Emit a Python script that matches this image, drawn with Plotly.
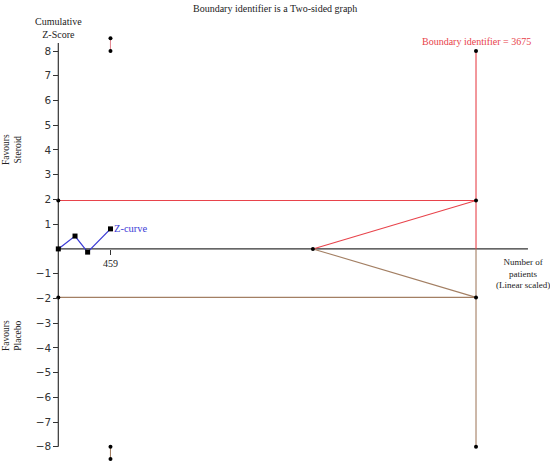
import plotly.graph_objects as go

# data
z_patients = [0, 147, 258, 459]
z_values = [0, 0.52, -0.13, 0.81]
required_info = 3675
conv_z = 1.96
look_patients = [459, 459]
upper_look_z = [8.0, 8.52]
lower_look_z = [-8.0, -8.5]
futility_start = 2240
y_ticks = [-8, -7, -6, -5, -4, -3, -2, -1, 1, 2, 3, 4, 5, 6, 7, 8]
x_ticks = [459]
axis_end_x = 4132
axis_end_y = 8.33

RED = "#e8434b"
BROWN = "#a37f63"
BLUE = "#3b3bd6"
AXIS = "#333333"
SERIF = "Liberation Serif, Times New Roman, serif"

fig = go.Figure()


def seg(x, y, color, width=1.1):
    fig.add_trace(go.Scatter(x=x, y=y, mode="lines", line=dict(color=color, width=width),
                             hoverinfo="skip", showlegend=False))


def dots(x, y, size=4, symbol="circle"):
    fig.add_trace(go.Scatter(x=x, y=y, mode="markers", cliponaxis=False,
                             marker=dict(color="black", size=size, symbol=symbol),
                             hoverinfo="skip", showlegend=False))


# axes lines
seg([0, axis_end_x], [0, 0], AXIS, 1.2)
seg([0, 0], [-8, axis_end_y], AXIS, 1.2)

# conventional boundaries
seg([0, required_info], [conv_z, conv_z], RED)
seg([0, required_info], [-conv_z, -conv_z], BROWN)

# required information size line
seg([required_info, required_info], [8, 0], RED)
seg([required_info, required_info], [0, -8], BROWN)

# futility wedge
seg([futility_start, required_info], [0, conv_z], RED)
seg([futility_start, required_info], [0, -conv_z], BROWN)

# monitoring boundaries at the interim look
seg(look_patients, upper_look_z, "#e58a94")
seg(look_patients, lower_look_z, BROWN)

dots([0, 0, required_info, required_info, required_info, required_info, futility_start],
     [conv_z, -conv_z, conv_z, -conv_z, 8, -8, 0])
dots(look_patients + look_patients, upper_look_z + lower_look_z)

# z-curve
fig.add_trace(go.Scatter(x=z_patients, y=z_values, mode="lines+markers", cliponaxis=False,
                         line=dict(color=BLUE, width=1.3),
                         marker=dict(color="black", size=5, symbol="square"),
                         hoverinfo="skip", showlegend=False))

# axis arrows
fig.add_annotation(x=axis_end_x, y=0, ax=axis_end_x - 1, ay=0, axref="x", ayref="y",
                   showarrow=True, arrowhead=5, arrowsize=1, arrowwidth=1.2, arrowcolor=AXIS, text="")
fig.add_annotation(x=0, y=axis_end_y, ax=0, ay=axis_end_y - 0.01, axref="x", ayref="y",
                   showarrow=True, arrowhead=5, arrowsize=1, arrowwidth=1.2, arrowcolor=AXIS, text="")

# texts
fig.add_annotation(x=0.5, y=1, xref="paper", yref="paper", yanchor="top", yshift=-1,
                   text="Boundary identifier is a Two-sided graph", showarrow=False,
                   font=dict(family=SERIF, size=10, color="#222"))
fig.add_annotation(x=0, y=axis_end_y, yanchor="bottom", yshift=1,
                   text="Cumulative<br>Z-Score", showarrow=False,
                   font=dict(family=SERIF, size=10, color="#222"))
fig.add_annotation(x=required_info, y=8, yanchor="bottom", yshift=2,
                   text=f"Boundary identifier = {required_info}", showarrow=False,
                   font=dict(family=SERIF, size=10, color=RED))
fig.add_annotation(x=z_patients[-1], y=z_values[-1], xanchor="left", xshift=2,
                   text="Z-curve", showarrow=False,
                   font=dict(family=SERIF, size=10.5, color=BLUE))
fig.add_annotation(x=axis_end_x - 45, y=0, yanchor="top", yshift=-6,
                   text="Number of<br>patients<br>(Linear scaled)", showarrow=False,
                   font=dict(family=SERIF, size=9, color="#222"))
fig.add_annotation(x=12 / 550, y=1 - 150 / 465, xref="paper", yref="paper",
                   xanchor="center", yanchor="middle",
                   text="Favours<br>Steroid", textangle=-90, showarrow=False,
                   font=dict(family=SERIF, size=9.5, color="#222"))
fig.add_annotation(x=12 / 550, y=1 - 336 / 465, xref="paper", yref="paper",
                   xanchor="center", yanchor="middle",
                   text="Favours<br>Placebo", textangle=-90, showarrow=False,
                   font=dict(family=SERIF, size=9.5, color="#222"))

fig.update_layout(
    width=550,
    height=465,
    margin=dict(l=0, r=0, t=0, b=0),
    paper_bgcolor="white",
    plot_bgcolor="white",
    xaxis=dict(range=[-513, 4326], showgrid=False, zeroline=False, showline=False,
               tickvals=x_ticks, ticks="outside", ticklen=5, tickcolor=AXIS,
               anchor="free", position=(465 - 248.9) / 465,
               tickfont=dict(family=SERIF, size=10, color="#222")),
    yaxis=dict(range=[-8.738, 10.065], showgrid=False, zeroline=False, showline=False,
               tickvals=y_ticks, ticktext=[str(v).replace("-", "\u2212") for v in y_ticks],
               ticks="outside", ticklen=5, tickcolor=AXIS,
               anchor="free", position=58.3 / 550,
               tickfont=dict(family="DejaVu Sans, sans-serif", size=10.5, color="#333")),
)

# drop the browser's default body margin so the 550x465 figure fills the window
fig.write_html("out.html", config={"displayModeBar": False},
               post_script="document.body.style.margin='0';")
